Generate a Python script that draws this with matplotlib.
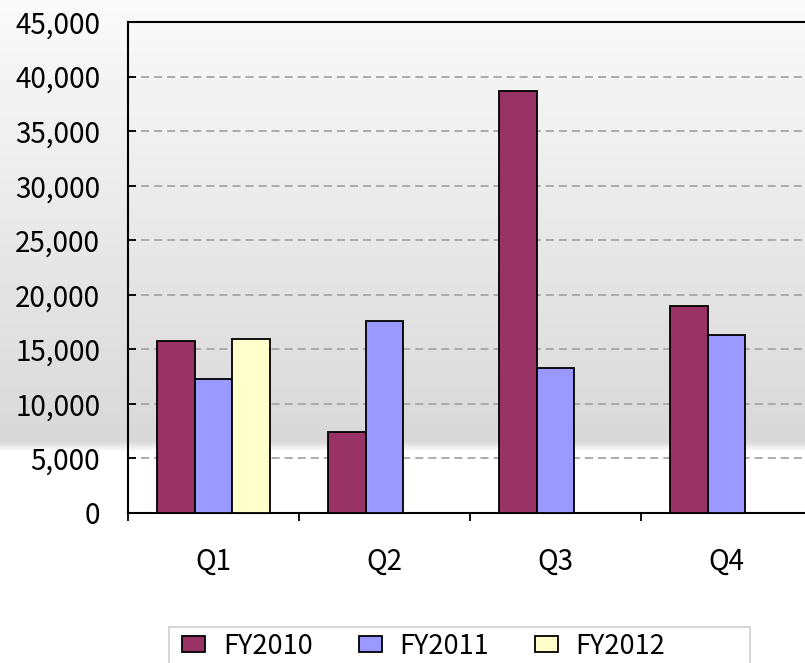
"""
Quarterly bar chart, FY2010 - FY2012.
"""
import matplotlib
matplotlib.use("Agg")
import matplotlib.pyplot as plt
import numpy as np
from matplotlib.patches import Rectangle
from matplotlib.ticker import FuncFormatter, FixedLocator

# chart data
quarters = ["Q1", "Q2", "Q3", "Q4"]
series_names = ["FY2010", "FY2011", "FY2012"]
fy2010 = [15800, 7400, 38700, 19000]
fy2011 = [12250, 17600, 13250, 16300]
fy2012 = [15950, np.nan, np.nan, np.nan]
series_colors = ["#993366", "#9999FF", "#FFFFCC"]

plt.rcParams["font.family"] = ["Noto Sans CJK JP", "DejaVu Sans"]
plt.rcParams["lines.scale_dashes"] = False

W, H = 805, 663
fig = plt.figure(figsize=(W / 100, H / 100), dpi=100)

# background gradient (light gray, fading out sharply near the bottom)
bg = fig.add_axes([0, 0, 1, 1], zorder=-10)
rows = np.arange(H)
shade = 250 - (250 - 216) * rows / 440.0
fade = np.clip((rows - 441) / 10.0, 0, 1)
shade = shade * (1 - fade) + 255 * fade
img = np.repeat((shade / 255.0)[:, None], 2, axis=1)
bg.imshow(img, cmap="gray", vmin=0, vmax=1, aspect="auto", extent=[0, 1, 0, 1])
bg.set_axis_off()

ax = fig.add_axes([128 / W, 150 / H, 684 / W, 491 / H])
ax.set_facecolor("none")

x = np.arange(len(quarters))
bar_w = 0.222
for i, (vals, color) in enumerate(zip([fy2010, fy2011, fy2012], series_colors)):
    ax.bar(x + (i - 1) * bar_w, vals, width=bar_w, color=color,
           edgecolor="black", linewidth=1.3, label=series_names[i], zorder=3)

ax.set_xlim(-0.5, 3.5)
ax.set_ylim(0, 45000)
ax.set_yticks(np.arange(0, 45001, 5000))
ax.yaxis.set_major_formatter(FuncFormatter(lambda v, p: f"{int(v):,}"))
ax.tick_params(axis="y", direction="in", length=6, width=1.3, pad=20, labelsize=20)

ax.xaxis.set_major_locator(FixedLocator([-0.5, 0.5, 1.5, 2.5, 3.5]))
ax.xaxis.set_minor_locator(FixedLocator(x))
ax.xaxis.set_major_formatter(FuncFormatter(lambda v, p: ""))
ax.set_xticks(x, quarters, minor=True)
ax.tick_params(axis="x", which="major", direction="out", length=6, width=1.3)
ax.tick_params(axis="x", which="minor", length=0, pad=24, labelsize=20)

ax.set_axisbelow(True)
ax.yaxis.grid(True, linestyle=(0, (5.8, 3.6)), color="#a6a6a6", linewidth=1.3)

for side in ["top", "left", "bottom"]:
    ax.spines[side].set_linewidth(1.5)
ax.spines["right"].set_visible(False)

# legend box and entries
fig.patches.append(Rectangle((169 / W, -0.1), (750 - 169) / W, 0.1 + (H - 627) / H,
                             transform=fig.transFigure, facecolor="white",
                             edgecolor="#d0d0d0", linewidth=1.2, zorder=-5))
leg = fig.legend(loc="center left", bbox_to_anchor=(177 / W, 1 - 646 / H), ncol=3,
                 frameon=False, fontsize=19.5, handlelength=0.85, handleheight=0.55,
                 handletextpad=0.65, columnspacing=1.7, borderaxespad=0,
                 borderpad=0.2)

fig.savefig("out.png", dpi=100)
